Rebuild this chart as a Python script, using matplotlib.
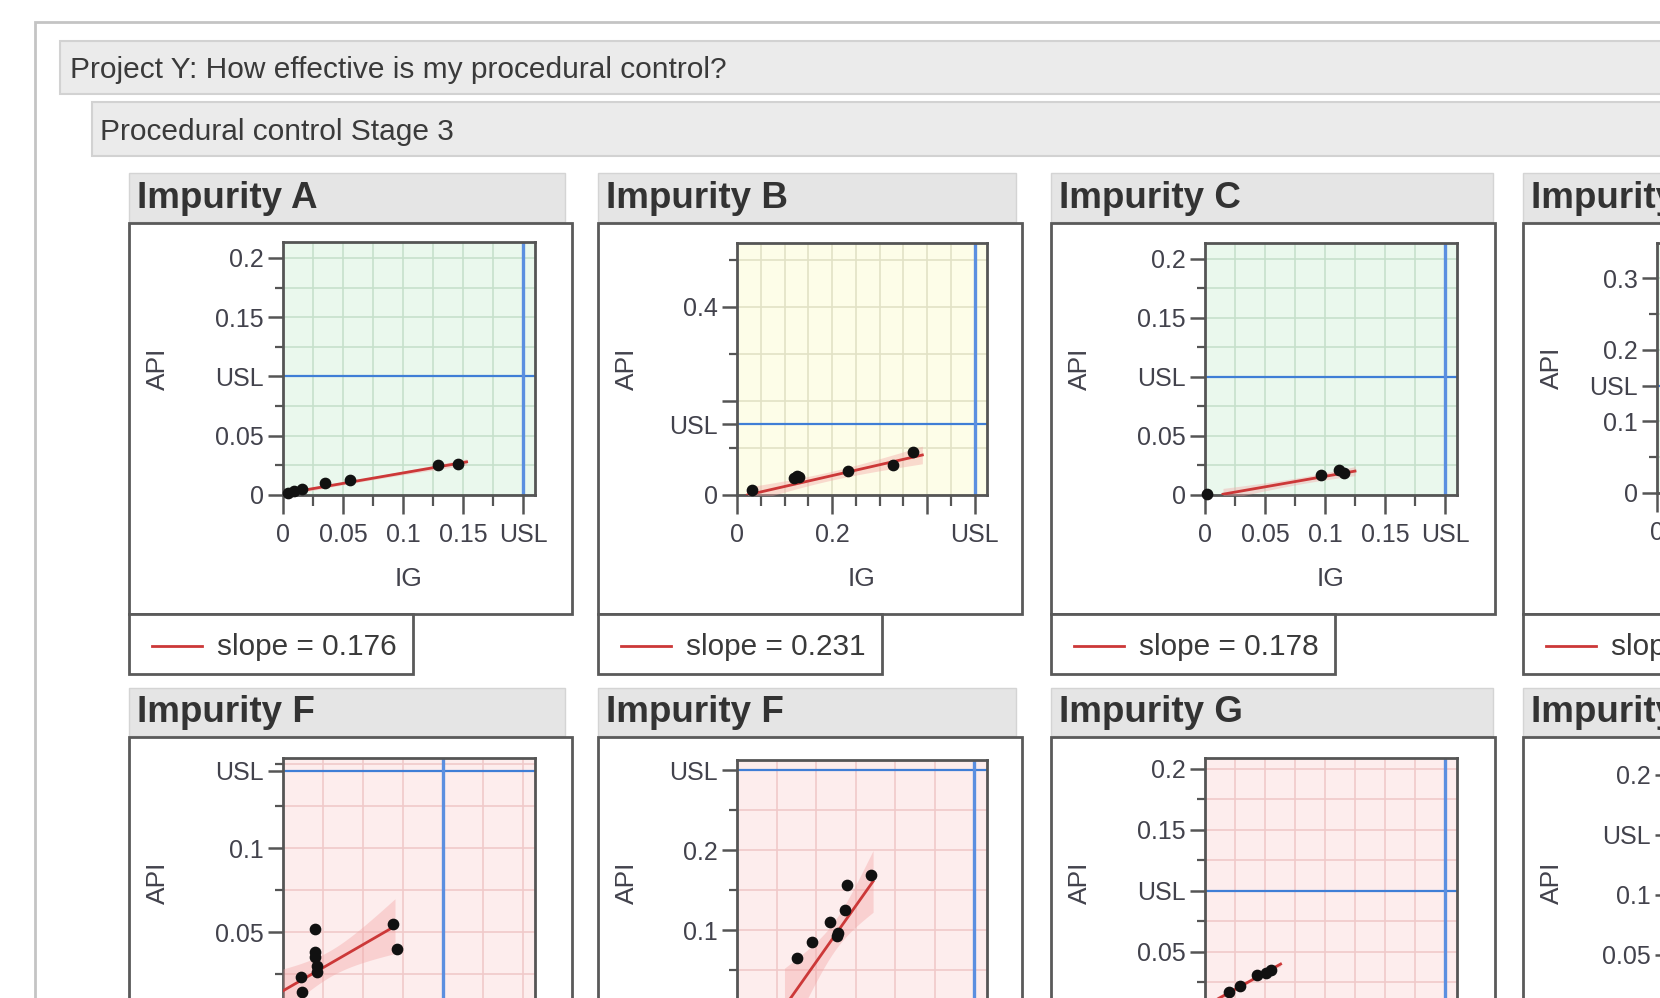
import numpy as np
import matplotlib.pyplot as plt
from matplotlib.patches import Rectangle
from matplotlib.lines import Line2D

plt.rcParams['font.family'] = ['Liberation Sans', 'DejaVu Sans']

W, H = 1660, 998

# ---- values ----
page_title = 'Project Y: How effective is my procedural control?'
stage_title = 'Procedural control Stage 3'
titles = ['Impurity A', 'Impurity B', 'Impurity C', 'Impurity D',
          'Impurity F', 'Impurity F', 'Impurity G', 'Impurity H']
slopes = [0.176, 0.231, 0.178, 0.213, 0.55, 1.4, 0.546, 0.5]
intercepts = [0.001, -0.005, -0.002, 0.0, 0.015, -0.08, 0.0057, 0.0]
fit_lo = [0.0, 0.022, 0.015, 0.0, 0.0, 0.06, 0.01, 0.0]
fit_hi = [0.153, 0.39, 0.125, 0.0, 0.07, 0.172, 0.063, 0.0]
usl_x = [0.2, 0.5, 0.2, 0.3, 0.1, 0.3, 0.2, 0.2]
usl_y = [0.1, 0.15, 0.1, 0.15, 0.146, 0.3, 0.1, 0.15]
x_max = [0.21, 0.526, 0.21, 0.32, 0.1575, 0.316, 0.21, 0.21]
y_max = [0.2135, 0.536, 0.2135, 0.349, 0.1536, 0.3125, 0.209, 0.214]

a_ig = [0.004, 0.009, 0.016, 0.035, 0.056, 0.129, 0.146]
a_api = [0.002, 0.003, 0.005, 0.010, 0.013, 0.025, 0.026]
b_ig = [0.031, 0.120, 0.126, 0.130, 0.234, 0.329, 0.371]
b_api = [0.011, 0.037, 0.041, 0.039, 0.050, 0.064, 0.092]
c_ig = [0.002, 0.097, 0.112, 0.116]
c_api = [0.001, 0.017, 0.021, 0.019]
f1_ig = [0.020, 0.020, 0.020, 0.021, 0.021, 0.011, 0.012, 0.069, 0.071]
f1_api = [0.052, 0.038, 0.035, 0.030, 0.026, 0.023, 0.014, 0.055, 0.040]
f2_ig = [0.076, 0.095, 0.118, 0.126, 0.128, 0.137, 0.139, 0.170]
f2_api = [0.065, 0.085, 0.110, 0.092, 0.096, 0.125, 0.156, 0.169]
g_ig = [0.020, 0.029, 0.043, 0.051, 0.055]
g_api = [0.017, 0.022, 0.031, 0.033, 0.035]

ig_data = [a_ig, b_ig, c_ig, [], f1_ig, f2_ig, g_ig, []]
api_data = [a_api, b_api, c_api, [], f1_api, f2_api, g_api, []]

# tick values and their labels (bottom row labels fall below the screenshot)
x_small = ([0, 0.05, 0.1, 0.15, 0.2], ['0', '0.05', '0.1', '0.15', 'USL'])
x_b = ([0, 0.2, 0.4, 0.5], ['0', '0.2', '', 'USL'])
x_d = ([0, 0.1, 0.2, 0.3], ['0', '', '', ''])
x_f1 = ([0, 0.05, 0.1], ['', '', ''])
x_f2 = ([0, 0.1, 0.2, 0.3], ['', '', '', ''])
x_hidden = ([0, 0.05, 0.1, 0.15, 0.2], ['', '', '', '', ''])
y_a = ([0, 0.05, 0.1, 0.15, 0.2], ['0', '0.05', 'USL', '0.15', '0.2'])
y_b = ([0, 0.15, 0.2, 0.4], ['0', 'USL', '', '0.4'])
y_d = ([0, 0.1, 0.15, 0.2, 0.3], ['0', '0.1', 'USL', '0.2', '0.3'])
y_f1 = ([0.05, 0.1, 0.146], ['0.05', '0.1', 'USL'])
y_f2 = ([0.1, 0.2, 0.3], ['0.1', '0.2', 'USL'])
y_g = ([0.05, 0.1, 0.15, 0.2], ['0.05', 'USL', '0.15', '0.2'])
y_h = ([0.05, 0.1, 0.15, 0.2], ['0.05', '0.1', 'USL', '0.2'])
x_ticks = [x_small, x_b, x_small, x_d, x_f1, x_f2, x_hidden, x_hidden]
y_ticks = [y_a, y_b, y_a, y_d, y_f1, y_f2, y_g, y_h]
x_minor = [0.025, 0.05, 0.025, 0.05, 0.025, 0.05, 0.025, 0.025]
y_minor = [0.025, 0.1, 0.025, 0.05, 0.025, 0.05, 0.025, 0.025]

# ---- layout (pixels) ----
frame_l = [129, 598, 1051, 1523]
frame_r = [572, 1022, 1495, 1990]
head_r = [565, 1016, 1493, 1990]
ax_l = [283, 737, 1205, 1657, 283, 737, 1205, 1670]
ax_w = [252, 250, 252, 252, 252, 250, 252, 252]
ax_t = [242, 243, 243, 243, 758, 760, 758, 758]
ax_b = [495, 495, 495, 493, 1016, 1010, 1013, 1015]
head_t = [173, 688]
head_b = [222, 736]
frame_b = [614, 1120]
bg = ['#eaf8ed', '#fdfde8', '#eaf8ed', '#eaf8ed',
      '#fdeded', '#fdeded', '#fdeded', '#fdeded']
grid_c = ['#c6e0cc', '#e2e2c6', '#c6e0cc', '#c6e0cc',
          '#f0caca', '#f0caca', '#f0caca', '#f0caca']

fig = plt.figure(figsize=(W / 100, H / 100), dpi=100)


def rect(x0, y0, x1, y1, **kw):
    fig.add_artist(Rectangle((x0 / W, 1 - y1 / H), (x1 - x0) / W, (y1 - y0) / H,
                             transform=fig.transFigure, **kw))


def text(x, y, s, **kw):
    fig.text(x / W, 1 - y / H, s, **kw)


# page chrome
rect(35, 22, 1700, 1100, facecolor='white', edgecolor='#c4c4c4', lw=2, zorder=-3)
rect(60, 41, 1700, 94, facecolor='#ebebeb', edgecolor='#d2d2d2', lw=1.5, zorder=-2)
text(70, 70, page_title, fontsize=21.5, color='#3a3a3a', va='center')
rect(92, 102, 1700, 156, facecolor='#ebebeb', edgecolor='#d2d2d2', lw=1.5, zorder=-2)
text(100, 132, stage_title, fontsize=21.5, color='#3a3a3a', va='center')

tc = '#42424c'
for i in range(8):
    row, col = divmod(i, 4)
    fl = frame_l[col]

    # header strip + title
    rect(fl, head_t[row], head_r[col], head_b[row], facecolor='#e5e5e5',
         edgecolor='#d4d4d4', lw=1, zorder=-1)
    text(fl + 8, (head_t[row] + head_b[row]) / 2 + 1, titles[i], fontsize=26.5,
         fontweight='bold', color='#333333', va='center')
    rect(fl, head_b[row] + 1, frame_r[col], frame_b[row], facecolor='white',
         edgecolor='#5a5a5a', lw=2, zorder=-1)

    ax = fig.add_axes([ax_l[i] / W, 1 - ax_b[i] / H, ax_w[i] / W,
                       (ax_b[i] - ax_t[i]) / H])
    ax.set_facecolor(bg[i])
    ax.set_xlim(0, x_max[i])
    ax.set_ylim(0, y_max[i])

    xt, xl = x_ticks[i]
    yt, yl = y_ticks[i]
    ax.set_xticks(xt, xl)
    ax.set_yticks(yt, yl)
    ax.set_xticks(np.arange(x_minor[i], x_max[i], x_minor[i]), minor=True)
    ax.set_yticks(np.arange(y_minor[i], y_max[i], y_minor[i]), minor=True)
    ax.grid(True, which='both', color=grid_c[i], lw=1.2, zorder=0)
    ax.set_axisbelow(True)
    ax.tick_params(which='major', width=1.8, color='#555555',
                   labelsize=18, labelcolor=tc)
    ax.tick_params(axis='x', which='major', length=14, pad=6)
    ax.tick_params(axis='y', which='major', length=11, pad=3)
    ax.tick_params(axis='x', which='minor', length=8, width=1.6, color='#555555')
    ax.tick_params(axis='y', which='minor', length=6, width=1.6, color='#555555')
    for sp in ax.spines.values():
        sp.set_color('#555555')
        sp.set_linewidth(2)

    ax.axhline(usl_y[i], color='#3f7ed6', lw=1.6, zorder=2)
    ax.axvline(usl_x[i], color='#5b8fe0', lw=2.4, zorder=2)

    x = np.asarray(ig_data[i])
    y = np.asarray(api_data[i])
    if len(x):
        xs = np.linspace(fit_lo[i], fit_hi[i], 50)
        fit = intercepts[i] + slopes[i] * xs
        resid = y - (intercepts[i] + slopes[i] * x)
        s = np.sqrt(np.sum(resid ** 2) / (len(x) - 2))
        sxx = np.sum((x - x.mean()) ** 2)
        half = 1.8 * s * np.sqrt(1 / len(x) + (xs - x.mean()) ** 2 / sxx)
        ax.fill_between(xs, fit - half, fit + half, color='#f4a6a6',
                        alpha=0.4, lw=0, zorder=3)
        ax.plot(xs, fit, color='#cc3838', lw=2, zorder=4)
        ax.scatter(x, y, s=55, color='#111111', zorder=5, clip_on=False)

    # axis titles
    text(fl + 29, (ax_t[i] + ax_b[i]) / 2 if row == 0 else 883, 'API',
         fontsize=19, color=tc, rotation=90, ha='center', va='center')
    if row == 0:
        text(ax_l[i] + ax_w[i] / 2, 579, 'IG', fontsize=19, color=tc,
             ha='center', va='center')
        # legend box under the frame
        rect(fl, 614, fl + 284, 674, facecolor='white', edgecolor='#5a5a5a',
             lw=2, zorder=-1)
        fig.add_artist(Line2D([(fl + 23) / W, (fl + 73) / W],
                              [1 - 646 / H, 1 - 646 / H],
                              color='#cc3838', lw=2, transform=fig.transFigure))
        text(fl + 88, 647, f'slope = {slopes[i]:.3f}', fontsize=21.4,
             color='#3a3a3a', va='center')

fig.savefig('out.png', dpi=100)
